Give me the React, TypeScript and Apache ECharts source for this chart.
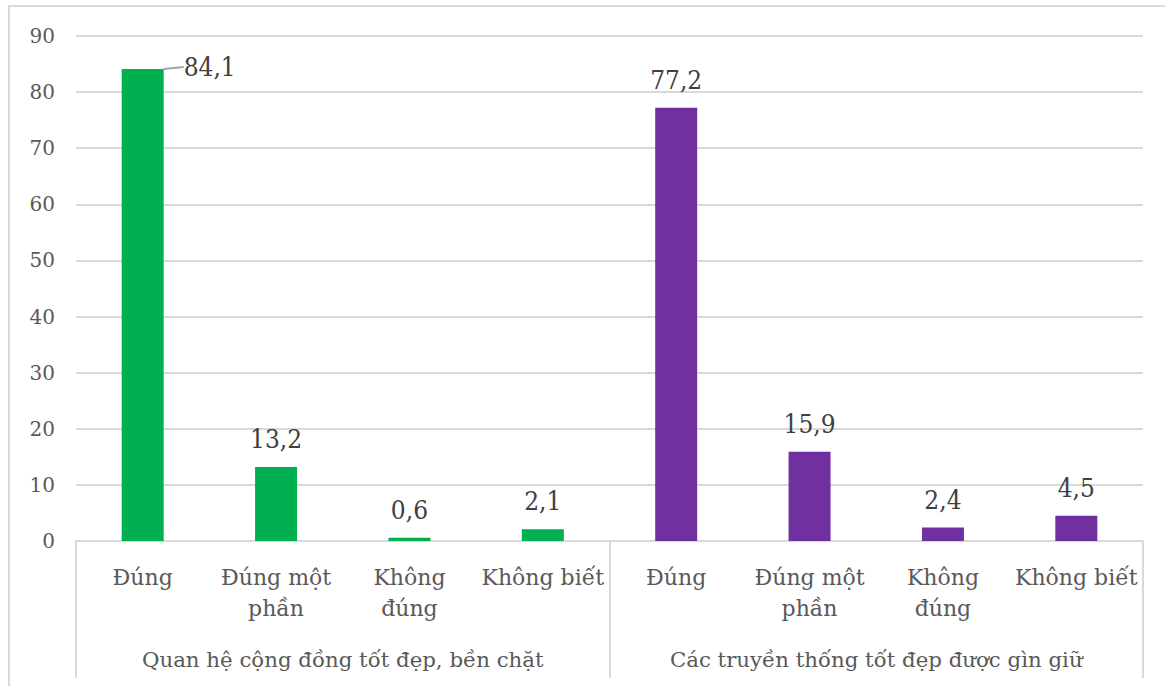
import React, { useEffect, useRef } from "react";
import * as echarts from "echarts";

const categories = [
  "Đúng",
  "Đúng một\nphần",
  "Không\nđúng",
  "Không biết",
  "Đúng",
  "Đúng một\nphần",
  "Không\nđúng",
  "Không biết",
];
const groups = [
  "Quan hệ cộng đồng tốt đẹp, bền chặt",
  "Các truyền thống tốt đẹp được gìn giữ",
];
const values = [84.1, 13.2, 0.6, 2.1, 77.2, 15.9, 2.4, 4.5];
const groupColors = ["#00b050", "#7030a0"];
const yTicks = [0, 10, 20, 30, 40, 50, 60, 70, 80, 90];

const FONT = "DejaVu Serif";
const LABEL_FONT = "DejaVu Serif Condensed, DejaVu Serif";

export default function App() {
  const ref = useRef<HTMLDivElement>(null);
  useEffect(() => {
    if (!ref.current) return;
    const chart = echarts.init(ref.current, null, { renderer: "svg" });
    const data = values.map((v, i) => {
      const item: any = {
        value: v,
        itemStyle: { color: groupColors[i < 4 ? 0 : 1] },
      };
      if (i === 0) {
        item.labelLine = { show: true, lineStyle: { color: "#a6a6a6", width: 2 } };
      }
      return item;
    });
    chart.setOption({
      animation: false,
      textStyle: { fontFamily: FONT },
      graphic: [
        {
          type: "rect",
          shape: { x: 9, y: 6, width: 1300, height: 800 },
          style: { fill: "none", stroke: "#d9d9d9", lineWidth: 2 },
          silent: true,
        },
      ],
      grid: { left: 76, right: 22, top: 36, bottom: 145 },
      xAxis: [
        {
          type: "category",
          data: categories,
          position: "bottom",
          axisLine: { show: true, lineStyle: { color: "#d9d9d9", width: 2 } },
          axisTick: { show: false },
          axisLabel: {
            interval: 0,
            margin: 21,
            fontSize: 22,
            lineHeight: 31,
            color: "#595959",
            fontFamily: FONT,
          },
        },
        {
          type: "category",
          data: groups,
          position: "bottom",
          axisLine: { show: false },
          axisTick: { show: true, length: 137, lineStyle: { color: "#d9d9d9", width: 2 } },
          axisLabel: {
            interval: 0,
            margin: 108,
            fontSize: 21.3,
            color: "#595959",
            fontFamily: FONT,
          },
        },
      ],
      yAxis: {
        type: "value",
        min: 0,
        max: 90,
        interval: 10,
        axisLine: { show: false },
        axisTick: { show: false },
        splitLine: { lineStyle: { color: "#d9d9d9", width: 2 } },
        axisLabel: {
          margin: 21,
          fontSize: 20,
          color: "#595959",
          fontFamily: FONT,
          formatter: (v: number) => (yTicks.includes(v) ? String(v) : ""),
        },
      },
      series: [
        {
          type: "bar",
          xAxisIndex: 0,
          data,
          barWidth: 42,
          label: {
            show: true,
            position: "top",
            distance: 15,
            fontSize: 26,
            color: "#404040",
            fontFamily: LABEL_FONT,
            formatter: (p: any) => String(p.value).replace(".", ","),
          },
          labelLine: { show: false },
          labelLayout: (p: any) => {
            if (p.dataIndex === 0) {
              return {
                x: p.rect.x + p.rect.width + 20,
                y: p.rect.y - 2,
                align: "left",
                verticalAlign: "middle",
              };
            }
            return {};
          },
        },
      ],
    });
    return () => chart.dispose();
  }, []);
  return (
    <div
      ref={ref}
      style={{ position: "absolute", left: 0, top: 0, width: 1165, height: 686, background: "#fff" }}
    />
  );
}
